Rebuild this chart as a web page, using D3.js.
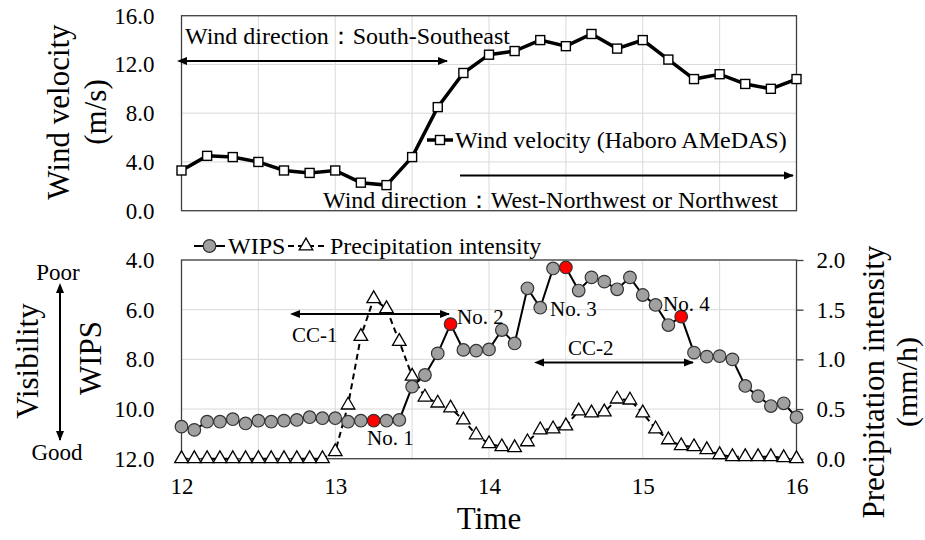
<!DOCTYPE html>
<html><head><meta charset="utf-8">
<script src="https://cdn.jsdelivr.net/npm/d3@7/dist/d3.min.js"></script>
<style>body{margin:0;background:#fff}svg{display:block}text{font-family:"Liberation Serif","Times New Roman",serif;fill:#000}</style>
</head><body><svg id="c" width="925" height="540"></svg>
<script>
// ---- data ----
const windTimes = ["12:00","12:10","12:20","12:30","12:40","12:50","13:00","13:10","13:20","13:30","13:40","13:50","14:00","14:10","14:20","14:30","14:40","14:50","15:00","15:10","15:20","15:30","15:40","15:50","16:00"];
const windVelocity = [3.3,4.5,4.4,4.0,3.3,3.1,3.3,2.3,2.1,4.4,8.5,11.3,12.8,13.1,14.0,13.5,14.5,13.3,14.0,12.4,10.8,11.2,10.4,10.0,10.8];
const wipsTimes = ["12:00","12:05","12:10","12:15","12:20","12:25","12:30","12:35","12:40","12:45","12:50","12:55","13:00","13:05","13:10","13:15","13:20","13:25","13:30","13:35","13:40","13:45","13:50","13:55","14:00","14:05","14:10","14:15","14:20","14:25","14:30","14:35","14:40","14:45","14:50","14:55","15:00","15:05","15:10","15:15","15:20","15:25","15:30","15:35","15:40","15:45","15:50","15:55","16:00"];
const wips = [10.71,10.84,10.51,10.51,10.41,10.58,10.47,10.51,10.47,10.44,10.33,10.37,10.37,10.51,10.47,10.47,10.47,10.44,9.10,8.63,7.76,6.58,7.62,7.65,7.60,6.82,7.36,5.14,5.92,4.34,4.30,5.23,4.70,4.87,5.18,4.70,5.41,5.81,6.62,6.28,7.73,7.89,7.87,8.00,9.07,9.48,9.88,9.77,10.33];
const precipitation = [0,0,0,0,0,0,0,0,0,0,0,0,0.07,0.54,1.23,1.61,1.51,1.18,0.83,0.62,0.56,0.51,0.39,0.24,0.15,0.12,0.11,0.17,0.29,0.30,0.33,0.48,0.46,0.47,0.60,0.59,0.46,0.30,0.19,0.13,0.12,0.09,0.04,0.02,0.02,0.02,0.02,0.01,0.0];
const highlighted = ["13:15","13:45","14:30","15:15"];
const highlightLabels = ["No. 1","No. 2","No. 3","No. 4"];
const timeTicks = [12,13,14,15,16];
const windTicks = [0,4,8,12,16];
const wipsTicks = [4,6,8,10,12];
const precipTicks = [0,0.5,1.0,1.5,2.0];

const toH = s => { const [h,m] = s.split(":").map(Number); return h + m/60; };

const svg = d3.select("#c");
const X0 = 181.5, X1 = 796.5;
const x = d3.scaleLinear().domain([12,16]).range([X0,X1]);
const yW = d3.scaleLinear().domain([0,16]).range([210.7,15.7]);
const yV = d3.scaleLinear().domain([4,12]).range([260,458.7]);
const yP = d3.scaleLinear().domain([0,2]).range([458.7,260]);
const gridX = d3.range(12,16.01,0.5);

// arrow markers
const defs = svg.append("defs");
["s","e"].forEach(k=>{
  defs.append("marker").attr("id","ar"+k).attr("viewBox","0 0 10 10")
    .attr("refX",k==="e"?9:1).attr("refY",5).attr("markerWidth",5).attr("markerHeight",5)
    .attr("orient","auto-start-reverse").attr("markerUnits","strokeWidth")
    .append("path").attr("d","M0,1 L10,5 L0,9 z").attr("fill","#000");
});

function panel(y, yTop, yBot, hTicks){
  const g = svg.append("g");
  g.selectAll(".gh").data(hTicks).join("line").attr("x1",X0).attr("x2",X1)
    .attr("y1",d=>y(d)).attr("y2",d=>y(d)).attr("stroke","#d9d9d9").attr("stroke-width",1);
  g.selectAll(".gv").data(gridX).join("line").attr("y1",yTop).attr("y2",yBot)
    .attr("x1",d=>x(d)).attr("x2",d=>x(d)).attr("stroke","#d9d9d9").attr("stroke-width",1);
  g.append("rect").attr("x",X0).attr("y",yTop).attr("width",X1-X0).attr("height",yBot-yTop)
    .attr("fill","none").attr("stroke","#404040").attr("stroke-width",1.3);
}
panel(yW,15.7,210.7,windTicks);
panel(yV,260,458.7,wipsTicks);

// axes
const axL1 = svg.append("g").attr("transform",`translate(${X0},0)`)
  .call(d3.axisLeft(yW).tickValues(windTicks).tickSize(0).tickPadding(27).tickFormat(d3.format(".1f")));
const axL2 = svg.append("g").attr("transform",`translate(${X0},0)`)
  .call(d3.axisLeft(yV).tickValues(wipsTicks).tickSize(0).tickPadding(27).tickFormat(d3.format(".1f")));
const axR = svg.append("g").attr("transform",`translate(${X1},0)`)
  .call(d3.axisRight(yP).tickValues(precipTicks).tickSize(7).tickPadding(13).tickFormat(d3.format(".1f")));
const axB = svg.append("g").attr("transform",`translate(0,458.7)`)
  .call(d3.axisBottom(x).tickValues(timeTicks).tickSize(0).tickPadding(19).tickFormat(d3.format("d")));
[axL1,axL2,axR,axB].forEach(a=>{
  a.select(".domain").remove();
  a.selectAll("text").attr("font-size",23).attr("fill","#000");
  a.selectAll("line").attr("stroke","#404040").attr("stroke-width",1.3);
});

// wind line
const wd = windTimes.map((t,i)=>({t:toH(t),v:windVelocity[i]}));
svg.append("path").datum(wd).attr("fill","none").attr("stroke","#000").attr("stroke-width",3.5)
  .attr("d",d3.line().x(d=>x(d.t)).y(d=>yW(d.v)));
svg.selectAll(".sq").data(wd).join("rect").attr("x",d=>x(d.t)-4.5).attr("y",d=>yW(d.v)-4.5)
  .attr("width",9).attr("height",9).attr("fill","#fff").attr("stroke","#000").attr("stroke-width",1.4);

// precipitation
const pd = wipsTimes.map((t,i)=>({t:toH(t),v:precipitation[i]}));
svg.append("path").datum(pd).attr("fill","none").attr("stroke","#000").attr("stroke-width",2)
  .attr("stroke-dasharray","6,4").attr("d",d3.line().x(d=>x(d.t)).y(d=>yP(d.v)));
const tri = d3.symbol().type(d3.symbolTriangle).size(80);
svg.selectAll(".tr").data(pd).join("path").attr("d",tri)
  .attr("transform",d=>`translate(${x(d.t)},${yP(d.v)})`)
  .attr("fill","#fff").attr("stroke","#000").attr("stroke-width",1.3);

// wips
const vd = wipsTimes.map((t,i)=>({t:toH(t),v:wips[i],s:t}));
svg.append("path").datum(vd).attr("fill","none").attr("stroke","#000").attr("stroke-width",2)
  .attr("d",d3.line().x(d=>x(d.t)).y(d=>yV(d.v)));
svg.selectAll(".ci").data(vd).join("circle").attr("cx",d=>x(d.t)).attr("cy",d=>yV(d.v)).attr("r",6.3)
  .attr("fill",d=>highlighted.includes(d.s)?"#ff0000":"#a0a0a0").attr("stroke","#333").attr("stroke-width",1.2);

// annotations
function txt(xx,yy,s,size,anchor){ return svg.append("text").attr("x",xx).attr("y",yy).attr("font-size",size).attr("text-anchor",anchor||"start").text(s); }
function arrow(x1,y1,x2,y2,both){
  svg.append("line").attr("x1",x1).attr("y1",y1).attr("x2",x2).attr("y2",y2).attr("stroke","#000").attr("stroke-width",2)
    .attr("marker-end","url(#are)").attr("marker-start",both?"url(#ars)":null);
}
txt(185,44,"Wind direction：South-Southeast",24);
arrow(186,61,447,61,true);
arrow(460,175.5,793,175.5,false);
txt(323,208,"Wind direction：West-Northwest or Northwest",24);
// top legend
svg.append("line").attr("x1",427).attr("x2",453).attr("y1",140).attr("y2",140).attr("stroke","#000").attr("stroke-width",3.5);
svg.append("rect").attr("x",435.5).attr("y",135.5).attr("width",9).attr("height",9).attr("fill","#fff").attr("stroke","#000").attr("stroke-width",1.4);
txt(455,148,"Wind velocity (Haboro AMeDAS)",24);

// bottom legend
svg.append("line").attr("x1",194).attr("x2",225).attr("y1",246).attr("y2",246).attr("stroke","#000").attr("stroke-width",2);
svg.append("circle").attr("cx",209.5).attr("cy",246).attr("r",6.3).attr("fill","#a0a0a0").attr("stroke","#333").attr("stroke-width",1.2);
txt(228,254,"WIPS",24);
svg.append("line").attr("x1",288).attr("x2",327).attr("y1",246).attr("y2",246).attr("stroke","#000").attr("stroke-width",2).attr("stroke-dasharray","6,4");
svg.append("path").attr("d",tri).attr("transform","translate(306,246)").attr("fill","#fff").attr("stroke","#000").attr("stroke-width",1.3);
txt(330,254,"Precipitation intensity",24);

// bottom annotations
arrow(299,314,449,314,true);
txt(292,342,"CC-1",21);
arrow(543,362.5,693,362.5,true);
svg.append("rect").attr("x",566).attr("y",336).attr("width",50).attr("height",20).attr("fill","#fff");
txt(568,355,"CC-2",21);
txt(367,445,"No. 1",21);
txt(457,324,"No. 2",21);
txt(550,316,"No. 3",21);
txt(663,311,"No. 4",21);

// axis titles
function rtxt(xx,yy,s,size){ return svg.append("text").attr("transform",`translate(${xx},${yy}) rotate(-90)`).attr("text-anchor","middle").attr("dy","0.35em").attr("font-size",size).text(s); }
rtxt(58,112,"Wind velocity",31);
rtxt(95,112,"(m/s)",31);
rtxt(27,361,"Visibility",31);
rtxt(90,358,"WIPS",31);
rtxt(873,382,"Precipitation intensity",31);
rtxt(906,382,"(mm/h)",30);
txt(58,280,"Poor",23,"middle");
txt(57,460,"Good",23,"middle");
arrow(60,292,60,440,true);
txt(489,529,"Time",31,"middle");
</script></body></html>
